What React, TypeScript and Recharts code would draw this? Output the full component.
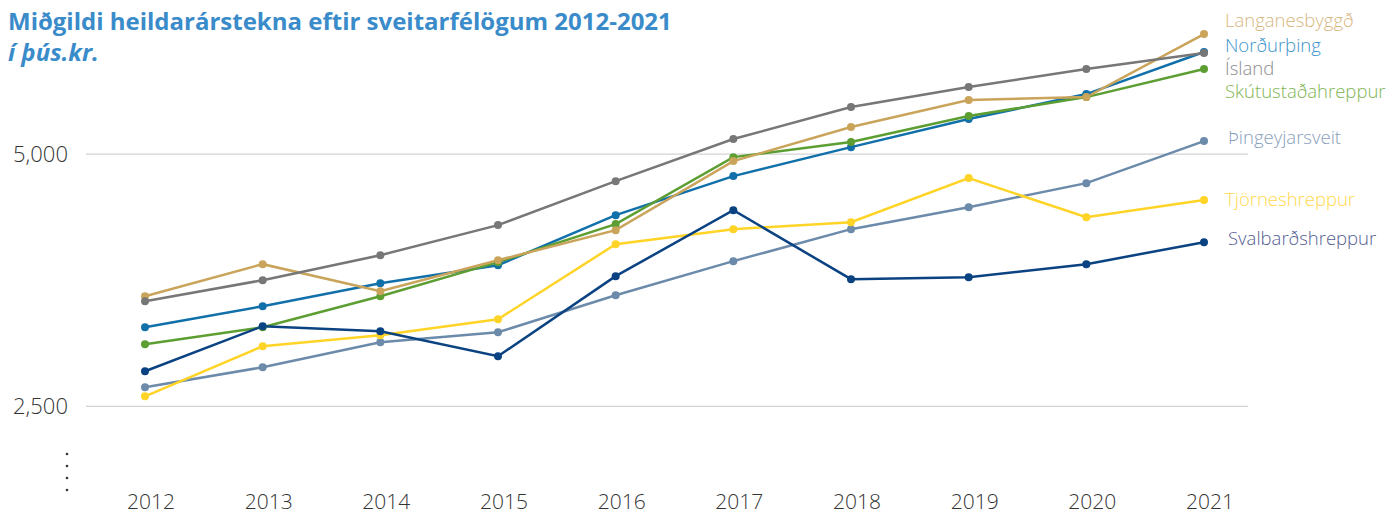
import { LineChart, Line, XAxis, YAxis, ReferenceLine } from "recharts";

const years = ["2012", "2013", "2014", "2015", "2016", "2017", "2018", "2019", "2020", "2021"];
const yTicks = [2500, 5000];

const langanesbyggd = [3591, 3909, 3641, 3948, 4246, 4931, 5268, 5536, 5565, 6190];
const nordurthing = [3284, 3492, 3720, 3899, 4395, 4782, 5069, 5347, 5595, 6012];
const island = [3542, 3750, 3998, 4296, 4732, 5149, 5466, 5665, 5843, 6002];
const skutustadahreppur = [3115, 3284, 3591, 3929, 4306, 4970, 5119, 5377, 5565, 5843];
const thingeyjarsveit = [2689, 2887, 3135, 3234, 3601, 3939, 4256, 4474, 4712, 5129];
const tjorneshreppur = [2599, 3095, 3204, 3363, 4107, 4256, 4325, 4762, 4375, 4544];
const svalbardshreppur = [2847, 3294, 3244, 2996, 3790, 4444, 3760, 3780, 3909, 4127];

type Series = {
  key: string;
  name: string;
  values: number[];
  color: string;
  labelColor: string;
  labelDx: number;
  labelDy: number;
};

// drawing order: later ones sit on top
const series: Series[] = [
  { key: "thing", name: "Þingeyjarsveit", values: thingeyjarsveit, color: "#6C8BAA", labelColor: "#88A0BB", labelDx: 24, labelDy: 3 },
  { key: "tjor", name: "Tjörneshreppur", values: tjorneshreppur, color: "#FFD426", labelColor: "#FFD84A", labelDx: 21, labelDy: 6 },
  { key: "nord", name: "Norðurþing", values: nordurthing, color: "#1170AA", labelColor: "#3C94CC", labelDx: 21, labelDy: 0 },
  { key: "skut", name: "Skútustaðahreppur", values: skutustadahreppur, color: "#5C9E31", labelColor: "#7FB552", labelDx: 21, labelDy: 29 },
  { key: "lang", name: "Langanesbyggð", values: langanesbyggd, color: "#C9A45A", labelColor: "#D8B77F", labelDx: 21, labelDy: -7 },
  { key: "isl", name: "Ísland", values: island, color: "#777777", labelColor: "#8C8C8C", labelDx: 21, labelDy: 22 },
  { key: "sval", name: "Svalbarðshreppur", values: svalbardshreppur, color: "#0A4282", labelColor: "#545E92", labelDx: 24, labelDy: 3 },
];

const data = years.map((year, i) => {
  const row: Record<string, string | number> = { year };
  series.forEach((s) => {
    row[s.key] = s.values[i];
  });
  return row;
});

const FONT = "'Open Sans', sans-serif";

function EndLabel(props: any, s: Series) {
  const { x, y, index } = props;
  if (index !== years.length - 1) return null;
  return (
    <text
      key={s.key + "-label"}
      x={x + s.labelDx}
      y={y + s.labelDy}
      fill={s.labelColor}
      fontSize={18.5}
      fontWeight={300}
      fontFamily={FONT}
    >
      {s.name}
    </text>
  );
}

function YearTick(props: any) {
  const { x, y, payload } = props;
  return (
    <text
      x={x + 6}
      y={y + 20}
      textAnchor="middle"
      fontSize={21}
      fontWeight={300}
      fill="#333"
      fontFamily={FONT}
    >
      {payload.value}
    </text>
  );
}

export default function App() {
  return (
    <div
      style={{
        position: "absolute",
        left: 0,
        top: 0,
        width: 1394,
        height: 515,
        background: "#fff",
        fontFamily: FONT,
        overflow: "hidden",
      }}
    >
      <div
        style={{
          position: "absolute",
          left: 8,
          top: 5,
          color: "#3A8BCA",
          fontWeight: 700,
          fontSize: 24,
          lineHeight: "31px",
          whiteSpace: "nowrap",
        }}
      >
        <div>Miðgildi heildarárstekna eftir sveitarfélögum 2012-2021</div>
        <div style={{ fontStyle: "italic" }}>í þús.kr.</div>
      </div>

      <svg
        width={10}
        height={50}
        style={{ position: "absolute", left: 62, top: 448 }}
      >
        {[0, 1, 2, 3].map((i) => (
          <circle key={i} cx={5} cy={6 + i * 12} r={1.3} fill="#333" />
        ))}
      </svg>

      <LineChart
        width={1394}
        height={515}
        data={data}
        margin={{ top: 28, right: 146, bottom: 0, left: 0 }}
        style={{ position: "absolute", left: 0, top: 0 }}
      >
        <XAxis
          dataKey="year"
          axisLine={false}
          tickLine={false}
          tickSize={0}
          height={28}
          padding={{ left: 59, right: 44 }}
          interval={0}
          tick={<YearTick />}
        />
        <YAxis
          type="number"
          domain={[1700, 6250]}
          ticks={yTicks}
          width={86}
          axisLine={false}
          tickLine={false}
          tickSize={0}
          tickMargin={18}
          allowDataOverflow
          tickFormatter={(v: number) => v.toLocaleString("en-US")}
          tick={{ fontSize: 22, fontWeight: 300, fill: "#333", fontFamily: FONT }}
        />
        {yTicks.map((t) => (
          <ReferenceLine key={t} y={t} stroke="#C8C8C8" strokeWidth={1} />
        ))}
        {series.map((s) => (
          <Line
            key={s.key}
            dataKey={s.key}
            name={s.name}
            stroke={s.color}
            strokeWidth={2.5}
            dot={{ r: 4, fill: s.color, stroke: "none" }}
            activeDot={false}
            isAnimationActive={false}
            label={(p: any) => EndLabel(p, s)}
          />
        ))}
      </LineChart>
    </div>
  );
}
